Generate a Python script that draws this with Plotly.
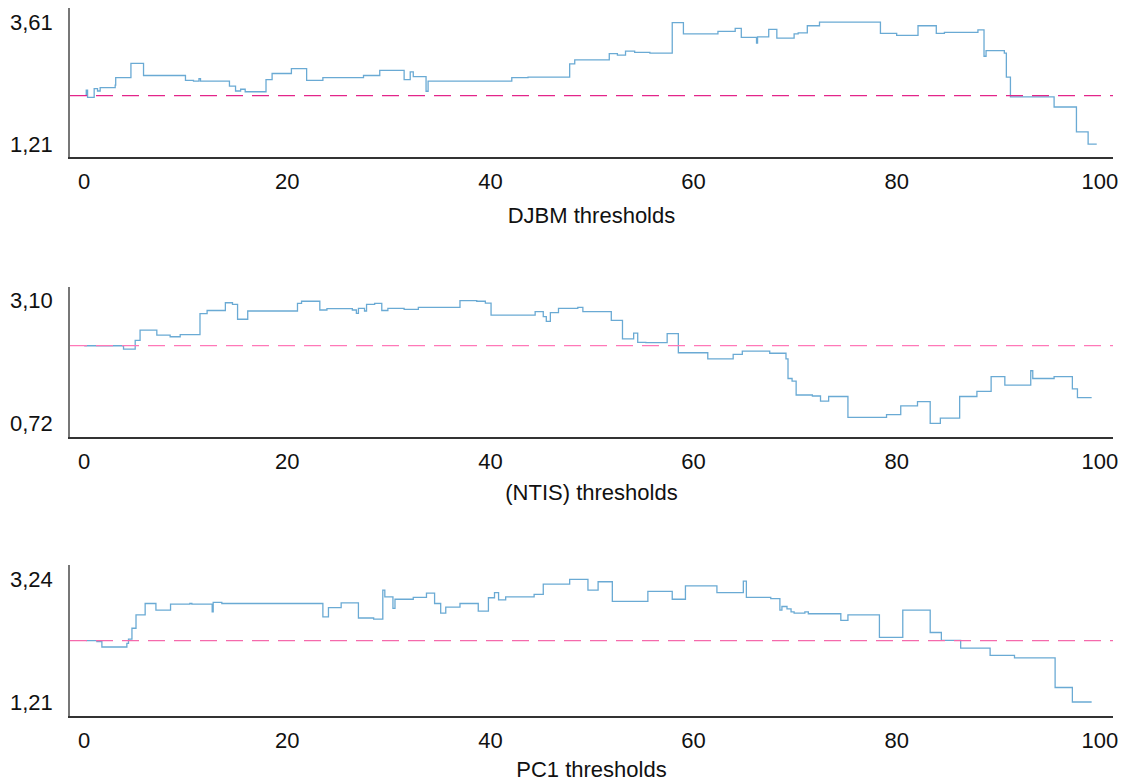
import plotly.graph_objects as go
from plotly.subplots import make_subplots

# ---- data ----
djbm_x = [0.1, 0.2, 0.33, 0.98, 1.31, 1.57, 3.05, 3.1, 4.6, 5.84, 9.97, 10.76, 11.3, 11.45,
          14.3, 14.9, 15.4, 15.85, 17.9, 18.5, 20.4, 21.9, 23.5, 27.5, 29.1, 31.5, 32.1, 32.4,
          33.66, 33.86, 42.1, 43.7, 47.8, 48.3, 51.7, 52.5, 53.3, 54.2, 55.7, 57.9, 59.0, 62.4,
          64.1, 64.7, 66.2, 66.3, 67.4, 68.2, 69.9, 70.3, 71.2, 72.4, 78.4, 80.0, 82.1, 83.9,
          84.7, 88.0, 88.6, 88.8, 90.6, 90.8, 91.2, 95.5, 97.7, 98.85, 99.7]
djbm_y = [2.17, 2.27, 2.13, 2.30, 2.255, 2.32, 2.37, 2.52, 2.80, 2.56, 2.465, 2.45, 2.50, 2.45,
          2.35, 2.255, 2.29, 2.24, 2.48, 2.60, 2.695, 2.465, 2.52, 2.56, 2.66, 2.48, 2.63, 2.54,
          2.25, 2.45, 2.52, 2.53, 2.79, 2.87, 2.99, 2.96, 3.04, 3.015, 3.00, 3.60, 3.38, 3.43,
          3.49, 3.31, 3.20, 3.32, 3.47, 3.295, 3.38, 3.40, 3.54, 3.61, 3.39, 3.35, 3.54, 3.39,
          3.41, 3.46, 2.94, 3.05, 3.00, 2.53, 2.14, 1.94, 1.45, 1.21, 1.21]

ntis_x = [0.0, 3.87, 5.02, 5.5, 7.15, 8.46, 9.45, 11.4, 12.1, 13.9, 14.6, 15.1, 16.1, 21.0,
          21.4, 23.2, 23.9, 26.4, 26.8, 27.0, 27.6, 27.8, 28.6, 29.3, 29.9, 31.5, 32.9, 37.0,
          38.65, 39.5, 40.06, 44.4, 45.2, 45.5, 45.9, 46.7, 48.6, 49.1, 51.9, 53.0, 54.1, 54.5,
          55.3, 57.4, 58.5, 61.4, 63.9, 64.8, 67.5, 69.1, 69.3, 69.7, 70.1, 71.7, 72.5, 73.3,
          75.2, 79.0, 80.4, 82.05, 83.3, 84.3, 86.2, 87.9, 89.3, 90.65, 93.2, 93.4, 95.5, 97.3,
          97.8, 99.2]
ntis_y = [2.226, 2.16, 2.33, 2.53, 2.43, 2.40, 2.44, 2.85, 2.91, 3.06, 3.03, 2.74, 2.90, 3.05,
          3.09, 2.92, 2.945, 2.92, 2.855, 2.95, 2.90, 3.03, 3.05, 2.91, 2.95, 2.93, 2.97, 3.10,
          3.09, 3.055, 2.82, 2.89, 2.79, 2.70, 2.87, 2.95, 2.97, 2.89, 2.72, 2.36, 2.47, 2.29,
          2.285, 2.46, 2.09, 1.97, 2.06, 2.12, 2.08, 1.97, 1.59, 1.54, 1.27, 1.25, 1.15, 1.24,
          0.835, 0.89, 1.06, 1.14, 0.72, 0.82, 1.24, 1.34, 1.625, 1.46, 1.74, 1.59, 1.625, 1.39,
          1.22, 1.22]

pc1_x = [0.2, 1.25, 1.74, 4.2, 4.36, 4.7, 5.1, 6.0, 7.06, 8.5, 10.4, 10.6, 12.6, 12.7, 13.55,
         23.5, 24.05, 25.3, 27.0, 28.5, 29.4, 29.6, 30.4, 30.6, 32.4, 33.7, 34.5, 35.1, 35.6,
         37.0, 38.8, 39.8, 40.4, 40.8, 41.5, 44.3, 45.2, 47.8, 49.6, 50.6, 52.0, 55.5, 57.9,
         59.2, 62.3, 64.9, 65.2, 67.6, 68.5, 68.7, 69.2, 69.6, 69.9, 70.96, 71.3, 74.5, 75.2,
         78.3, 80.6, 83.3, 84.4, 86.3, 89.2, 91.6, 95.6, 97.3, 99.2]
pc1_y = [2.224, 2.21, 2.12, 2.18, 2.25, 2.43, 2.65, 2.84, 2.73, 2.83, 2.84, 2.83, 2.70, 2.86,
         2.84, 2.62, 2.77, 2.85, 2.60, 2.58, 3.06, 2.95, 2.76, 2.91, 2.94, 3.01, 2.84, 2.68,
         2.78, 2.84, 2.715, 2.935, 3.02, 2.90, 2.95, 2.99, 3.16, 3.24, 3.06, 3.20, 2.875, 3.04,
         2.91, 3.13, 3.02, 3.21, 2.94, 2.92, 2.73, 2.79, 2.75, 2.70, 2.68, 2.70, 2.67, 2.56,
         2.65, 2.28, 2.73, 2.36, 2.23, 2.10, 1.98, 1.94, 1.45, 1.21, 1.21]

panels = [
    dict(x=djbm_x, y=djbm_y, ref=2.165, title="DJBM thresholds", standoff=14,
         ticks=[1.21, 3.61], ticktext=["1,21", "3,61"], yrange=[0.955, 3.89], dash_color="#e3258a"),
    dict(x=ntis_x, y=ntis_y, ref=2.227, title="(NTIS) thresholds", standoff=12,
         ticks=[0.72, 3.10], ticktext=["0,72", "3,10"], yrange=[0.46, 3.372], dash_color="#ff78b8"),
    dict(x=pc1_x, y=pc1_y, ref=2.224, title="PC1 thresholds", standoff=10,
         ticks=[1.21, 3.24], ticktext=["1,21", "3,24"], yrange=[0.983, 3.477], dash_color="#f56aac"),
]
x_ticks = [0, 20, 40, 60, 80, 100]

# page body has an 8px margin; compensate so the figure lands where the reference is
OFF = 8
W, H = 1126 - OFF, 782 - OFF
domains = [(8, 157), (286.7, 436.7), (565, 715.7)]  # screen pixel rows

fig = make_subplots(rows=3, cols=1)
font_family = "Liberation Sans, Arial, sans-serif"
FS = 22

for i, p in enumerate(panels, start=1):
    fig.add_trace(go.Scatter(x=p["x"], y=p["y"], mode="lines", line_shape="hv",
                             line=dict(color="#6aaad4", width=1.3), showlegend=False),
                  row=i, col=1)
    top, bot = domains[i - 1]
    top -= OFF
    bot -= OFF
    ax_suffix = "" if i == 1 else str(i)
    fig.update_layout(**{
        f"xaxis{ax_suffix}": dict(
            range=[-1.4, 101.3], tickvals=x_ticks, showgrid=False, zeroline=False,
            showline=True, linecolor="#333333", linewidth=1.5,
            ticks="outside", ticklen=4, tickcolor="rgba(0,0,0,0)",
            tickfont=dict(size=FS, color="#111111", family=font_family),
            title=dict(text=p["title"], font=dict(size=FS, color="#111111", family=font_family),
                       standoff=p["standoff"]),
            automargin=False, domain=[0, 1],
        ),
        f"yaxis{ax_suffix}": dict(
            range=p["yrange"], tickvals=p["ticks"], ticktext=p["ticktext"],
            showgrid=False, zeroline=False, showline=True, linecolor="#777777", linewidth=1.5,
            ticks="outside", ticklen=11, tickcolor="rgba(0,0,0,0)",
            tickfont=dict(size=FS, color="#111111", family=font_family),
            automargin=False, domain=[1 - bot / H, 1 - top / H],
        ),
    })
    fig.add_hline(y=p["ref"], line=dict(color=p["dash_color"], width=1.3, dash="17px,9px"),
                  row=i, col=1)

fig.update_layout(
    width=W, height=H,
    margin=dict(l=70 - OFF, r=13, t=0, b=0),
    plot_bgcolor="white", paper_bgcolor="white",
    font=dict(family=font_family, size=FS, color="#111111"),
    showlegend=False,
)

fig.write_html("out.html")
